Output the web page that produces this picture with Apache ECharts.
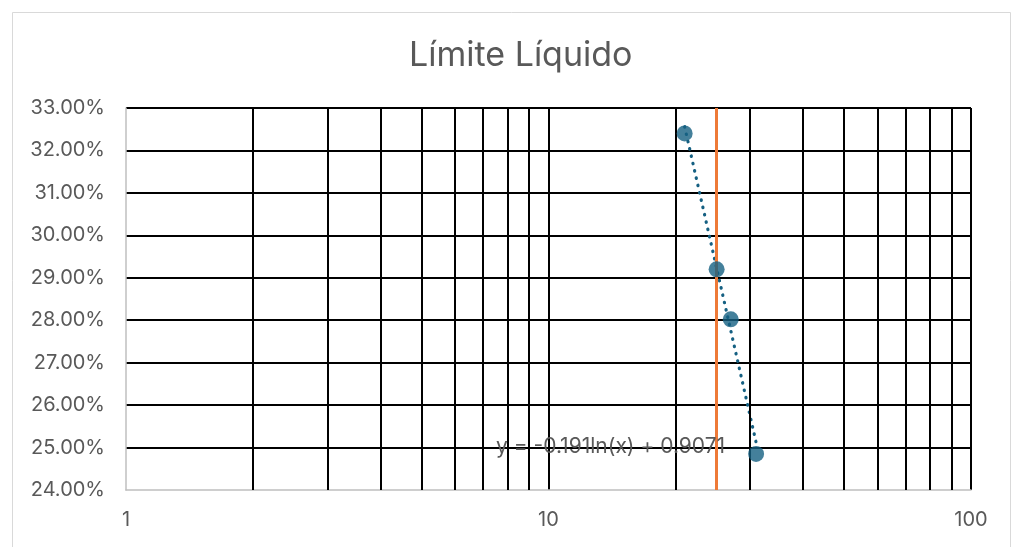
<!DOCTYPE html>
<html><head><meta charset="utf-8">
<script src="https://cdn.jsdelivr.net/npm/echarts@6/dist/echarts.min.js"></script>
<style>html,body{margin:0;padding:0;background:#fff}#c{width:1011px;height:547px}</style>
</head><body><div id="c"></div>
<script>
const titleText = 'Límite Líquido';
const xValues = [21, 25, 27, 31];
const yValues = [32.40, 29.20, 28.02, 24.85];
const refLineX = 25;
const trendA = -0.191, trendB = 0.9071;
const trendLabel = 'y = -0.191ln(x) + 0.9071';
const minorGridX = [2, 3, 4, 5, 6, 7, 8, 9, 20, 30, 40, 50, 60, 70, 80, 90];
const yMin = 24, yMax = 33, yStep = 1;
const xMin = 1, xMax = 100;

const FONT = 'Inter, "Open Sans", sans-serif';
const xLo = Math.min(...xValues), xHi = Math.max(...xValues);
const trendData = [xLo, xHi].map(x => [x, (trendA * Math.log(x) + trendB) * 100]);
const points = xValues.map((x, i) => [x, yValues[i]]);

const chart = echarts.init(document.getElementById('c'), null, {renderer: 'canvas'});
chart.setOption({
  animation: false,
  backgroundColor: '#fff',
  title: {text: titleText, left: 404, top: 34,
    textStyle: {fontFamily: FONT, fontSize: 34, fontWeight: 'normal', color: '#595959'}},
  grid: {left: 126, right: 40, top: 108, bottom: 57, containLabel: false},
  xAxis: {type: 'log', logBase: 10, min: xMin, max: xMax,
    axisLine: {show: true, lineStyle: {color: '#bfbfbf', width: 1.5}},
    axisTick: {show: false},
    axisLabel: {fontFamily: FONT, fontSize: 20, color: '#595959', margin: 20},
    splitLine: {show: true, showMinLine: false, lineStyle: {color: '#000', width: 2}}},
  yAxis: {type: 'value', min: yMin, max: yMax, interval: yStep,
    axisLine: {show: true, lineStyle: {color: '#bfbfbf', width: 1.5}},
    axisTick: {show: false},
    axisLabel: {fontFamily: FONT, fontSize: 20, color: '#595959', margin: 21,
      formatter: v => v.toFixed(2) + '%'},
    splitLine: {show: true, showMinLine: false, lineStyle: {color: '#000', width: 2}}},
  series: [
    {type: 'line', data: [], silent: true,
      markLine: {silent: true, symbol: 'none', label: {show: false},
        lineStyle: {color: '#000', width: 2, type: 'solid'},
        data: minorGridX.map(x => ({xAxis: x}))}},
    {type: 'line', data: [], silent: true, z: 3,
      markLine: {silent: true, symbol: 'none', label: {show: false},
        lineStyle: {color: '#EE7A38', width: 3, type: 'solid'},
        data: [{xAxis: refLineX}]}},
    {type: 'line', data: trendData, showSymbol: false, z: 4,
      lineStyle: {color: '#156082', width: 3.2, type: [0.5, 7], cap: 'round'}},
    {type: 'scatter', data: points, symbol: 'circle', symbolSize: 16, z: 5,
      itemStyle: {color: '#156082'}}
  ],
  graphic: [
    {type: 'rect', left: 10, top: 10, shape: {width: 998, height: 540},
      style: {fill: 'none', stroke: '#d9d9d9', lineWidth: 1}, silent: true},
    {type: 'text', left: 496, top: 436, z: 10,
      style: {text: trendLabel, fontFamily: FONT, fontSize: 21, fill: '#595959'}}
  ]
});
</script></body></html>
